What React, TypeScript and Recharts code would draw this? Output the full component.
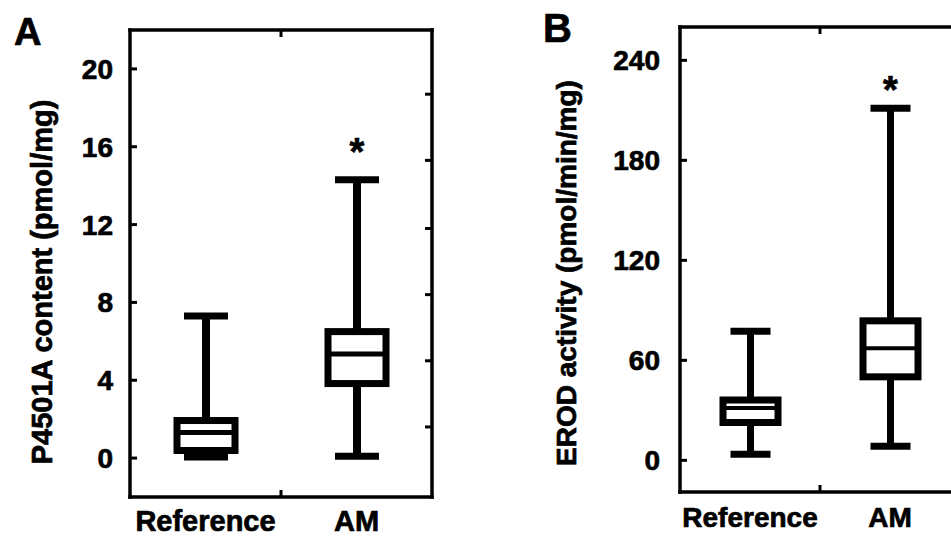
import React from 'react';
import { ComposedChart, Bar, XAxis, YAxis, Label } from 'recharts';

const FONT = '"Liberation Sans", Arial, Helvetica, sans-serif';
const HEAVY = 0.7;

const categories = ['Reference', 'AM'];

// Panel A: P4501A content (pmol/mg)
const aMin = [0.05, 0.1];
const aQ1 = [0.39, 3.83];
const aMedian = [1.32, 5.35];
const aQ3 = [1.93, 6.5];
const aMax = [7.3, 14.3];
const aStar: (number | null)[] = [null, 16.1];
const aTicks = [0, 4, 8, 12, 16, 20];
const aRightTicks = [1.6, 5.0, 8.4, 11.8, 15.3, 18.7];
const aDomain = [-2, 22];

// Panel B: EROD activity (pmol/min/mg)
const bMin = [3.6, 8.4];
const bQ1 = [22.7, 50.1];
const bMedian = [31.4, 67.2];
const bQ3 = [36.2, 83.7];
const bMax = [77.4, 211.2];
const bStar: (number | null)[] = [null, 226];
const bTicks = [0, 60, 120, 180, 240];
const bDomain = [-19, 260];

// category positions on the numeric x axis (1 = Reference, 2 = AM)
const xDomain = [0.5, 2.5];
const xBottomTicks = [1, 1.5, 2];
const xTopTicks = [1.5];

const makeData = (
  mins: number[],
  q1s: number[],
  meds: number[],
  q3s: number[],
  maxs: number[],
  stars: (number | null)[]
) =>
  categories.map((name, i) => ({
    name,
    pos: i + 1,
    range: [mins[i], maxs[i]],
    min: mins[i],
    q1: q1s[i],
    median: meds[i],
    q3: q3s[i],
    max: maxs[i],
    star: stars[i],
  }));

const dataA = makeData(aMin, aQ1, aMedian, aQ3, aMax, aStar);
const dataB = makeData(bMin, bQ1, bMedian, bQ3, bMax, bStar);

type BoxCfg = { cap: number; whisker: number; capW: number; box: number; med: number; starFs: number };

const makeBoxShape = (cfg: BoxCfg) => (props: any) => {
  const { x, y, width, height, payload } = props;
  if (!payload || !isFinite(y) || !isFinite(height)) return <g />;
  const top = Math.min(y, y + height);
  const h = Math.abs(height);
  const k = h / (payload.max - payload.min);
  const py = (v: number) => top + (payload.max - v) * k;
  const cx = x + width / 2;
  const half = cfg.cap / 2;
  return (
    <g>
      <line x1={cx} x2={cx} y1={py(payload.max)} y2={py(payload.q3)} stroke="#000" strokeWidth={cfg.whisker} />
      <line x1={cx} x2={cx} y1={py(payload.q1)} y2={py(payload.min)} stroke="#000" strokeWidth={cfg.whisker} />
      <line x1={cx - half} x2={cx + half} y1={py(payload.max)} y2={py(payload.max)} stroke="#000" strokeWidth={cfg.capW} />
      <line x1={cx - half} x2={cx + half} y1={py(payload.min)} y2={py(payload.min)} stroke="#000" strokeWidth={cfg.capW} />
      <rect
        x={x}
        y={py(payload.q3)}
        width={width}
        height={py(payload.q1) - py(payload.q3)}
        fill="#fff"
        stroke="#000"
        strokeWidth={cfg.box}
      />
      <line x1={x} x2={x + width} y1={py(payload.median)} y2={py(payload.median)} stroke="#000" strokeWidth={cfg.med} />
      {payload.star != null && (
        <text
          x={cx}
          y={py(payload.star) + 0.52 * cfg.starFs}
          textAnchor="middle"
          fontFamily={FONT}
          fontWeight={700}
          fontSize={cfg.starFs}
          fill="#000"
          stroke="#000"
          strokeWidth={HEAVY}
        >
          *
        </text>
      )}
    </g>
  );
};

const EmptyShape = () => <g />;
const NoLabel = () => <g />;

const BottomTick = (props: any) => {
  const { x, y, payload, fs, baseline } = props;
  const v = Number(payload.value);
  if (!Number.isInteger(v)) {
    return <line x1={x} x2={x} y1={y} y2={y - 7} stroke="#000" strokeWidth={3} />;
  }
  const label = categories[v - 1];
  return (
    <text
      x={x}
      y={y + baseline}
      textAnchor="middle"
      fontFamily={FONT}
      fontWeight={700}
      fontSize={fs}
      fill="#000"
      stroke="#000"
      strokeWidth={HEAVY}
    >
      {label}
    </text>
  );
};

const frameLine = { stroke: '#000', strokeWidth: 3.5, strokeLinecap: 'square' as const };
const tickLineStyle = { stroke: '#000', strokeWidth: 3 };
const tickFont = { fontSize: 28, fontWeight: 700, fill: '#000', fontFamily: FONT, stroke: '#000', strokeWidth: HEAVY };

const makeTitles = (letter: string, lx: number, ly: number, lfs: number, title: string, cx: number, cy: number, tfs: number) => () =>
  (
    <g>
      <text x={lx} y={ly} fontFamily={FONT} fontWeight={700} fontSize={lfs} fill="#000" stroke="#000" strokeWidth={HEAVY}>
        {letter}
      </text>
      <text
        x={cx}
        y={cy}
        transform={`rotate(-90 ${cx} ${cy})`}
        textAnchor="middle"
        dominantBaseline="central"
        fontFamily={FONT}
        fontWeight={700}
        fontSize={tfs}
        fill="#000"
        stroke="#000"
        strokeWidth={HEAVY}
      >
        {title}
      </text>
    </g>
  );

const titlesA = makeTitles('A', 14, 45, 38, 'P4501A content (pmol/mg)', 42, 282, 29);
const titlesB = makeTitles('B', 68, 42, 40, 'EROD activity (pmol/min/mg)', 91, 273, 28);

const shapeA = makeBoxShape({ cap: 44, whisker: 8, capW: 7, box: 7, med: 5, starFs: 38 });
const shapeB = makeBoxShape({ cap: 40, whisker: 7, capW: 7, box: 7, med: 4, starFs: 38 });

type PanelProps = {
  data: any[];
  width: number;
  margin: { top: number; right: number; bottom: number; left: number };
  bottomH: number;
  yWidth: number;
  yDomain: number[];
  yTicks: number[];
  rightTicks: number[];
  tickMargin: number;
  labelFs: number;
  labelBaseline: number;
  barSize: number;
  shape: any;
  titles: any;
};

function Panel(p: PanelProps) {
  return (
    <ComposedChart width={p.width} height={540} data={p.data} margin={p.margin}>
      <XAxis
        xAxisId="bottom"
        dataKey="pos"
        type="number"
        domain={xDomain}
        ticks={xBottomTicks}
        interval={0}
        allowDataOverflow
        height={p.bottomH}
        axisLine={frameLine}
        tickLine={false}
        tickSize={0}
        tickMargin={0}
        tick={<BottomTick fs={p.labelFs} baseline={p.labelBaseline} />}
      />
      <XAxis
        xAxisId="top"
        orientation="top"
        dataKey="pos"
        type="number"
        domain={xDomain}
        ticks={xTopTicks}
        interval={0}
        allowDataOverflow
        height={10}
        axisLine={frameLine}
        tickLine={tickLineStyle}
        tickSize={-7}
        tick={<NoLabel />}
      />
      <YAxis
        yAxisId="left"
        type="number"
        domain={p.yDomain}
        ticks={p.yTicks}
        interval={0}
        allowDataOverflow
        width={p.yWidth}
        axisLine={frameLine}
        tickLine={tickLineStyle}
        tickSize={-7}
        tickMargin={p.tickMargin}
        tick={tickFont}
      >
        <Label content={p.titles} />
      </YAxis>
      <YAxis
        yAxisId="right"
        orientation="right"
        type="number"
        domain={p.yDomain}
        ticks={p.rightTicks}
        interval={0}
        allowDataOverflow
        width={10}
        axisLine={frameLine}
        tickLine={tickLineStyle}
        tickSize={-7}
        tick={<NoLabel />}
      />
      <Bar
        xAxisId="top"
        yAxisId="right"
        dataKey="range"
        barSize={p.barSize}
        shape={EmptyShape}
        isAnimationActive={false}
      />
      <Bar
        xAxisId="bottom"
        yAxisId="left"
        dataKey="range"
        barSize={p.barSize}
        shape={p.shape}
        isAnimationActive={false}
      />
    </ComposedChart>
  );
}

export default function App() {
  return (
    <div
      style={{
        position: 'absolute',
        left: 0,
        top: 0,
        width: 951,
        height: 540,
        overflow: 'hidden',
        background: '#fff',
      }}
    >
      <div style={{ position: 'absolute', left: 0, top: 0 }}>
        <Panel
          data={dataA}
          width={475}
          margin={{ top: 20, right: 33, bottom: 0, left: 0 }}
          bottomH={43}
          yWidth={130}
          yDomain={aDomain}
          yTicks={aTicks}
          rightTicks={aRightTicks}
          tickMargin={24}
          labelFs={29}
          labelBaseline={34}
          barSize={58}
          shape={shapeA}
          titles={titlesA}
        />
      </div>
      <div style={{ position: 'absolute', left: 475, top: 0 }}>
        <Panel
          data={dataB}
          width={500}
          margin={{ top: 17, right: 5, bottom: 0, left: 0 }}
          bottomH={48}
          yWidth={205}
          yDomain={bDomain}
          yTicks={bTicks}
          rightTicks={[]}
          tickMargin={27}
          labelFs={28}
          labelBaseline={35}
          barSize={55}
          shape={shapeB}
          titles={titlesB}
        />
      </div>
    </div>
  );
}
